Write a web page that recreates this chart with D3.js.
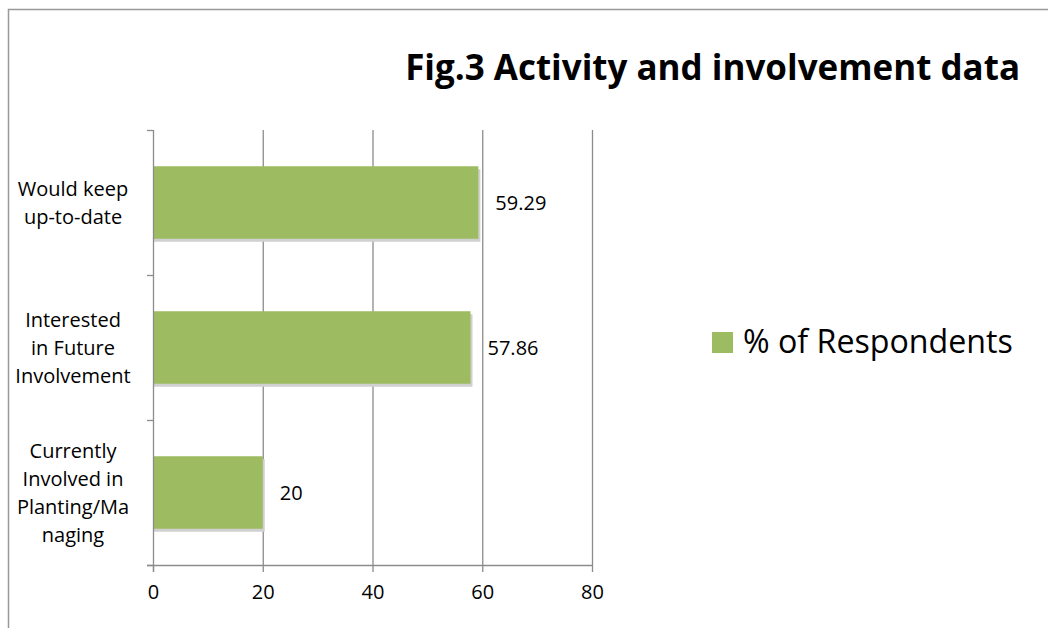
<!DOCTYPE html>
<html><head><meta charset="utf-8">
<script src="https://cdn.jsdelivr.net/npm/d3@7"></script>
<style>body{margin:0;background:#fff}svg{display:block}text{font-family:"Open Sans","Liberation Sans",sans-serif;fill:#000}</style>
</head><body><svg id="c" width="1048" height="628"></svg>
<script>
const categories = [["Would keep","up-to-date"],["Interested","in Future","Involvement"],["Currently","Involved in","Planting/Ma","naging"]];
const values = [59.29, 57.86, 20];
const valueLabels = ["59.29","57.86","20"];
const ticks = [0,20,40,60,80];
const title = "Fig.3 Activity and involvement data";
const seriesName = "% of Respondents";

(function(){
const svg = d3.select("#c");
const fs = 20;
// frame
svg.append("path").attr("d","M8.5,628 V9.5 H1048").attr("fill","none").attr("stroke","#999").attr("stroke-width",1.5);

const pL=153, pR=592, pT=130, pB=565;
const x = d3.scaleLinear().domain([0,80]).range([pL,pR]);
const y = d3.scaleBand().domain(d3.range(categories.length)).range([pT,pB]).paddingInner(0.5).paddingOuter(0.25);
const yb = d3.scaleBand().domain(d3.range(categories.length)).range([pT,pB]);

// gridlines
svg.append("g").selectAll("line").data(ticks.slice(1)).join("line")
  .attr("x1",d=>x(d)+0.5).attr("x2",d=>x(d)+0.5).attr("y1",pT).attr("y2",pB)
  .attr("stroke","#8c8c8c").attr("stroke-width",1.3);

// bars shadow
const g = svg.append("g");
g.selectAll("rect.sh").data(values).join("rect").attr("class","sh")
  .attr("x",x(0)+1).attr("y",(d,i)=>y(i)+3).attr("width",d=>x(d)-x(0)+1).attr("height",y.bandwidth())
  .attr("fill","#d0d0d0");
g.selectAll("rect.b").data(values).join("rect").attr("class","b")
  .attr("x",x(0)).attr("y",(d,i)=>y(i)).attr("width",d=>x(d)-x(0)).attr("height",y.bandwidth())
  .attr("fill","#9dbb61");

// value labels
svg.append("g").selectAll("text").data(values).join("text")
  .attr("x",d=>x(d)+17).attr("y",(d,i)=>y(i)+y.bandwidth()/2+7)
  .attr("font-size",fs).text((d,i)=>valueLabels[i]);

// x axis
const xa = svg.append("g").attr("transform",`translate(0,${pB})`)
  .call(d3.axisBottom(x).tickValues(ticks).tickSize(7).tickPadding(13));
xa.select(".domain").attr("d",`M${pL-6},0.5H${pR}`).attr("stroke","#8c8c8c").attr("stroke-width",1.3);
xa.selectAll(".tick line").attr("stroke","#8c8c8c").attr("stroke-width",1.3);
xa.selectAll(".tick text").attr("font-size",fs).attr("fill","#000").attr("font-family",'"Open Sans","Liberation Sans",sans-serif');

// y axis
svg.append("line").attr("x1",pL+0.5).attr("x2",pL+0.5).attr("y1",pT).attr("y2",pB+7).attr("stroke","#8c8c8c").attr("stroke-width",1.3);
const yt=[pT,...d3.range(categories.length).map(i=>yb(i)+yb.bandwidth())];
svg.append("g").selectAll("line").data(yt).join("line")
  .attr("x1",pL-6).attr("x2",pL).attr("y1",d=>d+0.5).attr("y2",d=>d+0.5).attr("stroke","#8c8c8c").attr("stroke-width",1.3);

// category labels
const lh=28;
svg.append("g").selectAll("text").data(categories).join("text")
  .attr("text-anchor","middle").attr("font-size",fs)
  .each(function(lines,i){
    const cy = y(i)+y.bandwidth()/2;
    const t=d3.select(this);
    lines.forEach((l,k)=>{
      t.append("tspan").attr("x",73).attr("y",cy+(k-(lines.length-1)/2)*lh+7).text(l);
    });
  });

// title
const tt = svg.append("text").attr("x",1020).attr("y",80).attr("text-anchor","end")
  .attr("font-family",'"Liberation Sans Narrow","Open Sans",sans-serif')
  .attr("font-size",36).attr("font-weight","bold").text(title);
const tw = tt.node().getComputedTextLength();
tt.attr("font-size",36*615/tw);

// legend
svg.append("rect").attr("x",712).attr("y",332).attr("width",21).attr("height",21).attr("fill","#9dbb61");
const lt = svg.append("text").attr("x",743).attr("y",353).attr("font-size",29).text(seriesName);
const lw = lt.node().getComputedTextLength();
lt.attr("font-size",29*270/lw);
})();
</script></body></html>
